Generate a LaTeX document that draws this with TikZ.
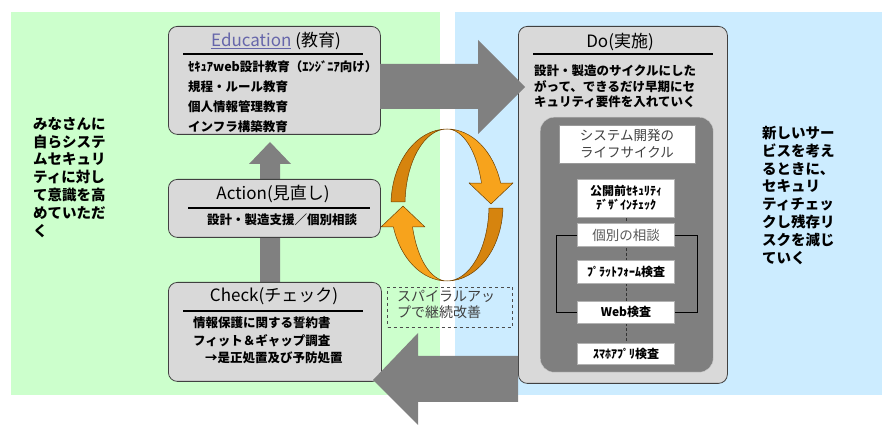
\documentclass[tikz,border=0pt]{standalone}
\usepackage{fontspec}
\setmainfont{Noto Sans CJK JP}
\usetikzlibrary{calc}
\definecolor{bggreen}{RGB}{204,255,204}
\definecolor{bgblue}{RGB}{204,236,255}
\definecolor{boxgray}{RGB}{217,217,217}
\definecolor{arrgray}{RGB}{128,128,128}
\definecolor{innergray}{RGB}{127,127,127}
\definecolor{edublue}{RGB}{102,102,170}
\definecolor{lightor}{RGB}{247,163,28}
\definecolor{darkor}{RGB}{214,132,14}
\definecolor{orline}{RGB}{110,65,0}
\begin{document}
\begin{tikzpicture}[x=1pt,y=-1pt,
  pdca/.style={draw=black!75, fill=boxgray, rounded corners=9pt, line width=0.8pt, anchor=north west, inner sep=0pt},
  titletext/.style={font=\fontsize{17}{19}\selectfont, inner sep=0pt},
  itemtext/.style={font=\fontsize{12.5}{15}\selectfont\bfseries, inner sep=0pt, anchor=west},
  sideText/.style={font=\fontsize{14.5}{17.8}\selectfont\bfseries, inner sep=0pt, anchor=north west, align=left},
  stepbox/.style={fill=white, draw=black!30, minimum width=97pt, inner sep=0pt, align=center, font=\fontsize{12}{14.5}\selectfont\bfseries},
  rule/.style={line width=2pt, black},
  blockarrow/.style={fill=arrgray},
  ribbon/.style={draw=orline, line width=0.5pt, line join=round}
]
\useasboundingbox (0,0) rectangle (887,435);
% backgrounds
\fill[bggreen] (11,12) rectangle (440,395);
\fill[bgblue] (455,12) rectangle (882,395);

% upward arrow (behind Action box)
\fill[blockarrow] (260,282) -- (260,164) -- (249,164) -- (270,142) -- (291,164) -- (280,164) -- (280,282) -- cycle;

% PDCA boxes
\node[pdca, minimum width=212pt, minimum height=108pt] (edu) at (168,26) {};
\node[pdca, minimum width=212pt, minimum height=58pt] (act) at (168,179) {};
\node[pdca, minimum width=213pt, minimum height=99pt] (chk) at (168,282) {};
\node[pdca, minimum width=209pt, minimum height=357pt] (do) at (518,26) {};

% Education
\node[titletext] (edut) at (276,41) {{\color{edublue}\underline{Education}} (教育)};
\draw[rule] (183,54) -- (363,54);
\node[font=\fontsize{12.5}{20}\selectfont\bfseries, inner sep=0pt, anchor=north west, align=left] (eduitems) at (188,61)
 {ｾｷｭｱweb設計教育（ｴﾝｼﾞﾆｱ向け）\\規程・ルール教育\\個人情報管理教育\\インフラ構築教育};

% Action
\node[titletext] (actt) at (273,194) {Action(見直し)};
\draw[rule] (188,208) -- (370,208);
\node[itemtext, anchor=center] (acti) at (282,220) {設計・製造支援／個別相談};

% Check
\node[titletext] (chkt) at (274,296) {Check(チェック)};
\draw[rule] (183,311) -- (363,311);
\node[itemtext] (c1) at (193,323) {情報保護に関する誓約書};
\node[itemtext] (c2) at (193,341) {フィット＆ギャップ調査};
\node[itemtext] (c3) at (205,358) {→是正処置及び予防処置};

% Do
\node[titletext] (dot) at (620,42) {Do(実施)};
\draw[rule] (533,54) -- (713,54);
\node[font=\fontsize{12.5}{15.2}\selectfont\bfseries, inner sep=0pt, anchor=north west, align=left] (dotext) at (534,65)
 {設計・製造のサイクルにした\\がって、できるだけ早期にセ\\キュリティ要件を入れていく};

% inner life-cycle panel
\node[fill=innergray, draw=black!20, rounded corners=14pt, minimum width=173pt, minimum height=255pt, anchor=north west, inner sep=0pt] (inner) at (540,117) {};
\node[fill=white, draw=black!40, minimum width=136pt, minimum height=38pt, inner sep=0pt, align=center,
  font=\fontsize{13.5}{17}\selectfont, text=black!75] (lc) at (627,144) {システム開発の\\ライフサイクル};

% connector line through steps
\draw[black!80, densely dashed, line width=0.8pt] (626,198) -- (626,353);
\node[stepbox, minimum height=38pt] (s1) at (626,198) {公開前ｾｷｭﾘﾃｨ\\ﾃﾞｻﾞｲﾝﾁｪｯｸ};
\node[stepbox, minimum height=23pt, font=\fontsize{13.5}{15}\selectfont, text=black!65] (s2) at (626,235) {個別の相談};
\node[stepbox, minimum height=23pt] (s3) at (626,272) {ﾌﾟﾗｯﾄﾌｫｰﾑ検査};
\node[stepbox, minimum height=22pt] (s4) at (626,312) {Web検査};
\node[stepbox, minimum height=21pt] (s5) at (626,354) {ｽﾏﾎｱﾌﾟﾘ検査};
\draw[black, line width=0.7pt] (s2.west) -- (556,235) |- (s4.west);
\draw[black, line width=0.7pt] (s2.east) -- (697,235) |- (s4.east);

% big block arrows
\fill[blockarrow] (380,64) -- (478,64) -- (478,40) -- (525,87) -- (478,134) -- (478,109) -- (380,109) -- cycle;
\fill[blockarrow] (518,356) -- (418,356) -- (418,333) -- (373,380) -- (418,425) -- (418,402) -- (518,402) -- cycle;

% spiral-up ribbon arrows
\coordinate (oc) at (447,205);
% top arc, dark (left) part
\filldraw[ribbon, fill=darkor] ($(oc)+(182.3:56 and 76)$) arc[start angle=182.3, end angle=270, x radius=56, y radius=76]
  arc[start angle=270, end angle=182.3, x radius=42, y radius=76] -- cycle;
% top arc, light (right) part with head
\filldraw[ribbon, fill=lightor] ($(oc)+(270:56 and 76)$) arc[start angle=270, end angle=343.2, x radius=56, y radius=76]
  -- (513,183) -- (491,204) -- (469,183) -- ($(oc)+(343.2:36 and 76)$)
  arc[start angle=343.2, end angle=270, x radius=36, y radius=76] -- cycle;
% bottom arc, dark (right) part
\filldraw[ribbon, fill=darkor] ($(oc)+(2.3:56 and 76)$) arc[start angle=2.3, end angle=90, x radius=56, y radius=76]
  arc[start angle=90, end angle=2.3, x radius=42, y radius=76] -- cycle;
% bottom arc, light (left) part with head
\filldraw[ribbon, fill=lightor] ($(oc)+(90:56 and 76)$) arc[start angle=90, end angle=163.2, x radius=56, y radius=76]
  -- (381,227) -- (403,206) -- (425,227) -- ($(oc)+(163.2:36 and 76)$)
  arc[start angle=163.2, end angle=90, x radius=36, y radius=76] -- cycle;

% spiral-up label
\node[draw=black!70, dashed, line width=0.6pt, minimum width=125pt, minimum height=40pt, inner sep=0pt] (spbox) at (450,307) {};
\node[font=\fontsize{14}{16}\selectfont, text=black!75, inner sep=0pt, anchor=north west, align=left] (sptext) at (397,290) {スパイラルアッ\\プで継続改善};

% side texts
\node[sideText] (lefttext) at (33,117) {みなさんに\\自らシステ\\ムセキュリ\\ティに対し\\て意識を高\\めていただ\\く};
\node[sideText] (righttext) at (762,126) {新しいサー\\ビスを考え\\るときに、\\セキュリ\\ティチェッ\\クし残存リ\\スクを減じ\\ていく};
\end{tikzpicture}
\end{document}
